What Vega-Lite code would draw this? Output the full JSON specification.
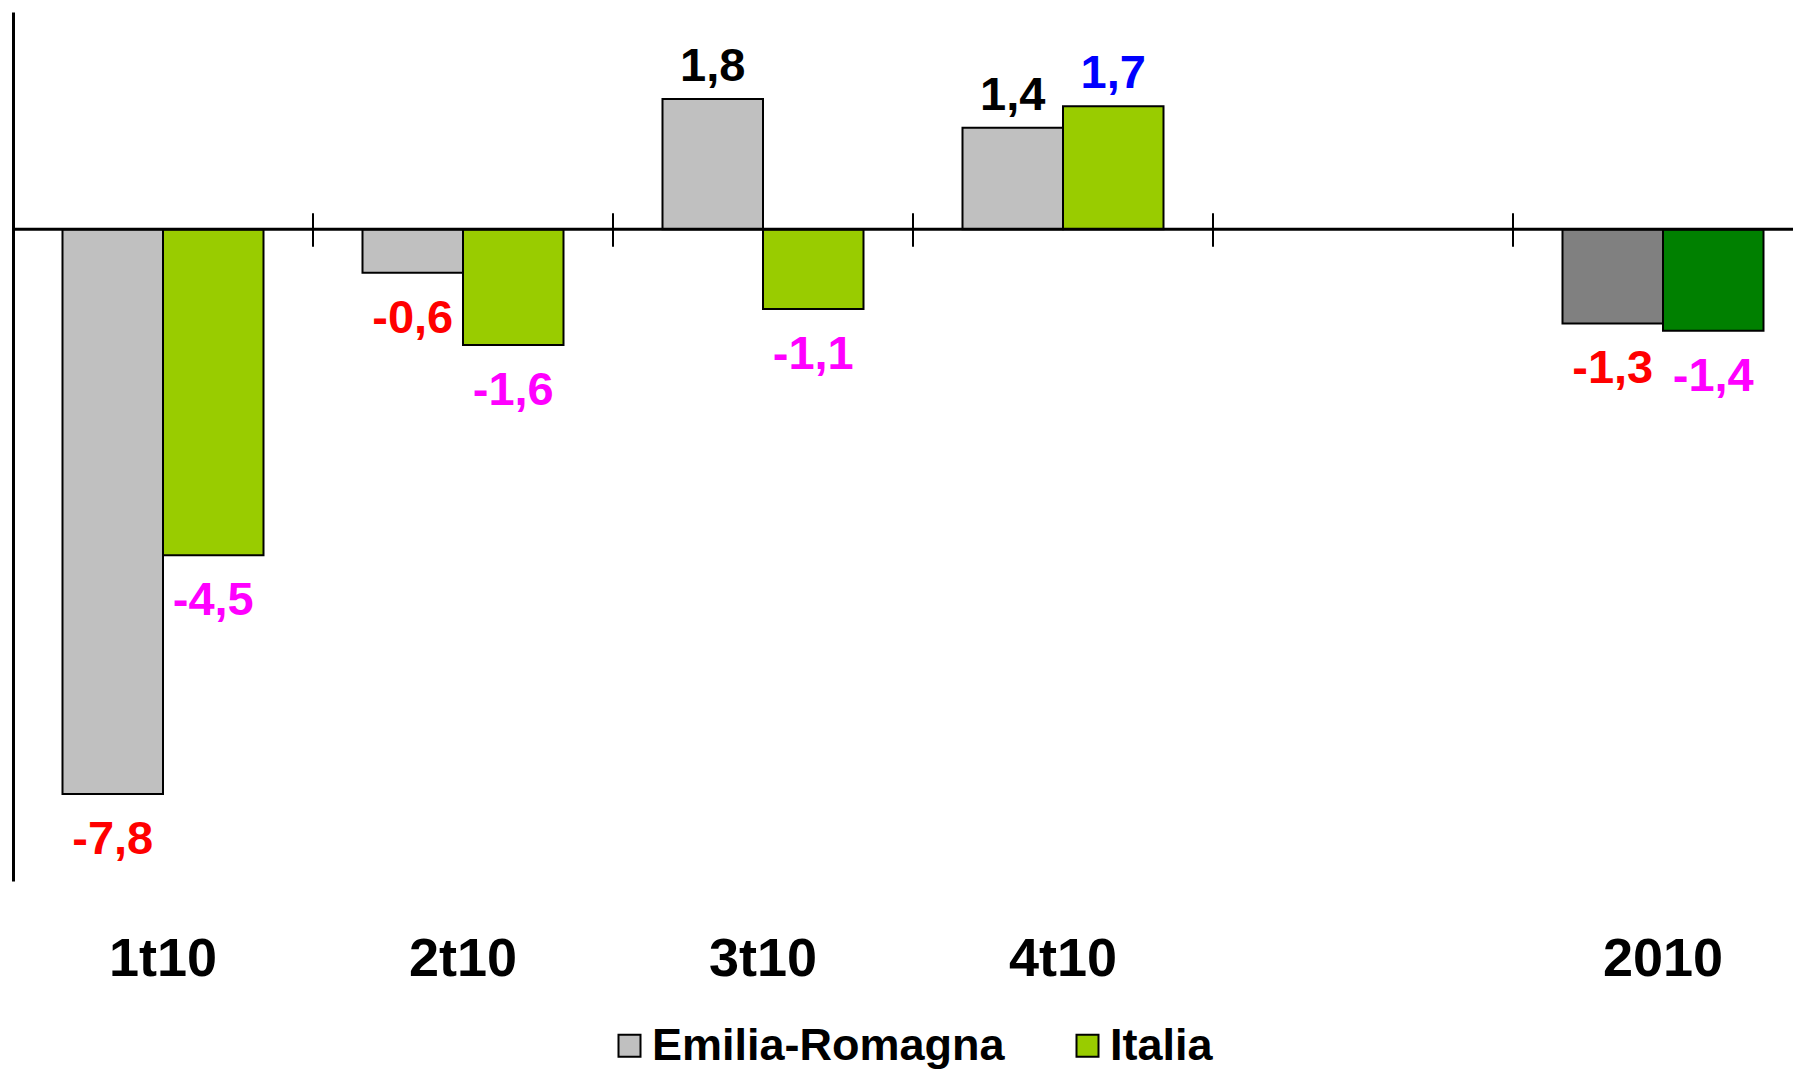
{
  "$schema": "https://vega.github.io/schema/vega-lite/v6.json",
  "width": 1780,
  "height": 869,
  "autosize": {"type": "none"},
  "padding": {"left": 13, "top": 12, "right": 0, "bottom": 191},
  "background": "white",
  "config": {
    "view": {"stroke": null},
    "locale": {"number": {"decimal": ",", "thousands": ".", "grouping": [3], "currency": ["", " €"], "minus": "-"}}
  },
  "datasets": {
    "bars": [
      {"cat": "1t10", "series": "Emilia-Romagna", "value": -7.8},
      {"cat": "1t10", "series": "Italia", "value": -4.5},
      {"cat": "2t10", "series": "Emilia-Romagna", "value": -0.6},
      {"cat": "2t10", "series": "Italia", "value": -1.6},
      {"cat": "3t10", "series": "Emilia-Romagna", "value": 1.8},
      {"cat": "3t10", "series": "Italia", "value": -1.1},
      {"cat": "4t10", "series": "Emilia-Romagna", "value": 1.4},
      {"cat": "4t10", "series": "Italia", "value": 1.7},
      {"cat": "2010", "series": "Emilia-Romagna", "value": -1.3},
      {"cat": "2010", "series": "Italia", "value": -1.4}
    ],
    "cats": [
      {"cat": "1t10"}, {"cat": "2t10"}, {"cat": "3t10"}, {"cat": "4t10"}, {"cat": "blank"}, {"cat": "2010"}
    ]
  },
  "data": {"name": "bars"},
  "layer": [
    {
      "mark": {"type": "bar", "stroke": "black", "strokeWidth": 2},
      "encoding": {
        "x": {
          "field": "cat", "type": "nominal",
          "scale": {"domain": ["1t10", "2t10", "3t10", "4t10", "blank", "2010"], "range": [0, 1800], "paddingInner": 0, "paddingOuter": 0},
          "axis": {
            "title": null, "domain": false, "ticks": false, "tickSize": 0, "labelAngle": 0,
            "labelFont": "Liberation Sans", "labelFontSize": 54, "labelFontWeight": "bold", "labelColor": "black",
            "labelPadding": 51, "labelBaseline": "top",
            "labelExpr": "datum.value == 'blank' ? '' : datum.value"
          }
        },
        "xOffset": {"field": "series", "type": "nominal", "scale": {"paddingInner": 0, "paddingOuter": 0.4925}},
        "y": {
          "field": "value", "type": "quantitative",
          "scale": {"domain": [-9, 3], "nice": false},
          "axis": {"title": null, "grid": false, "ticks": false, "labels": false, "domain": true, "domainColor": "black", "domainWidth": 3}
        },
        "color": {
          "field": "series", "type": "nominal",
          "scale": {"domain": ["Emilia-Romagna", "Italia"], "range": ["#C0C0C0", "#99CC00"]},
          "condition": [
            {"test": "datum.cat === '2010' && datum.series === 'Emilia-Romagna'", "value": "#808080"},
            {"test": "datum.cat === '2010' && datum.series === 'Italia'", "value": "#008000"}
          ],
          "legend": {
            "title": null, "orient": "none", "legendX": 594, "legendY": 1011, "direction": "horizontal",
            "symbolType": "square", "symbolSize": 484, "symbolStrokeColor": "black", "symbolStrokeWidth": 2,
            "labelFont": "Liberation Sans", "labelFontSize": 45, "labelFontWeight": "bold", "labelColor": "black",
            "labelOffset": 0, "columnPadding": 60, "padding": 0, "labelLimit": 600
          }
        }
      }
    },
    {
      "data": {"values": [{}]},
      "mark": {"type": "rule", "stroke": "black", "strokeWidth": 3},
      "encoding": {"y": {"datum": 0, "type": "quantitative"}}
    },
    {
      "data": {"name": "cats"},
      "mark": {"type": "rule", "stroke": "black", "strokeWidth": 2},
      "encoding": {
        "x": {"field": "cat", "type": "nominal", "bandPosition": 0},
        "y": {"datum": 0.22, "type": "quantitative"},
        "y2": {"datum": -0.24}
      }
    },
    {
      "transform": [{"filter": "datum.value < 0"}],
      "mark": {"type": "text", "baseline": "alphabetic", "dy": 60, "font": "Liberation Sans", "fontSize": 47, "fontWeight": "bold"},
      "encoding": {
        "x": {"field": "cat", "type": "nominal"},
        "xOffset": {"field": "series", "type": "nominal"},
        "y": {"field": "value", "type": "quantitative"},
        "text": {"field": "value", "type": "quantitative", "format": ".1f"},
        "color": {"condition": {"test": "datum.series === 'Italia'", "value": "#FF00FF"}, "value": "#FF0000"}
      }
    },
    {
      "transform": [{"filter": "datum.value >= 0"}],
      "mark": {"type": "text", "baseline": "alphabetic", "dy": -18, "font": "Liberation Sans", "fontSize": 47, "fontWeight": "bold"},
      "encoding": {
        "x": {"field": "cat", "type": "nominal"},
        "xOffset": {"field": "series", "type": "nominal"},
        "y": {"field": "value", "type": "quantitative"},
        "text": {"field": "value", "type": "quantitative", "format": ".1f"},
        "color": {"condition": {"test": "datum.series === 'Italia'", "value": "#0000FF"}, "value": "#000000"}
      }
    }
  ]
}
